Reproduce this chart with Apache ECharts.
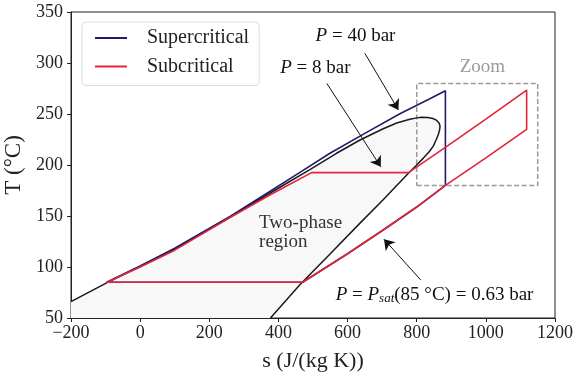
<!DOCTYPE html>
<html>
<head>
<meta charset="utf-8">
<script src="https://cdn.jsdelivr.net/npm/echarts@6/dist/echarts.min.js"></script>
<style>
  html, body { margin: 0; padding: 0; background: #fff; }
  #chart { width: 575px; height: 374px; }
</style>
</head>
<body>
<div id="chart"></div>
<script>
// Axis ticks
const sTicks = [-200, 0, 200, 400, 600, 800, 1000, 1200];
const tTicks = [50, 100, 150, 200, 250, 300, 350];

// Saturation dome (entropy J/(kg K), temperature °C)
const domeCurve = [
  [-200, 66], [-97, 84.5], [0, 100.5], [100, 117.5], [260, 149], [375, 172.3],
  [491, 195.5], [568, 211.5], [636, 224.5], [700, 235], [742, 241.2], [780, 244.9],
  [800, 246.2], [815, 246.7], [832, 246.6], [847, 245.6], [858, 243.7], [865, 241],
  [867.5, 238], [866, 234], [862, 229.5], [856, 224.5], [848, 218.5], [836, 213],
  [820, 207], [800, 200], [776, 192], [703, 166], [636, 143], [550, 113],
  [462, 82.5], [377, 50]
];

// Supercritical cycle at 40 bar
const supercritical = [
  [-97, 85], [0, 101], [100, 118.5], [260, 149.5], [375, 174], [460, 192.3],
  [549, 211.5], [650, 231], [750, 250], [838, 265], [883, 272.8],
  [883, 180], [800, 158.8], [703, 136.3], [600, 113], [470, 85], [-97, 85]
];

// Subcritical cycle at 8 bar
const subcritical = [
  [-97, 85], [0, 100], [100, 116.5], [260, 148.5], [375, 170.6], [496, 192.5],
  [776, 192.5], [886, 218], [1000, 245], [1118, 273.5],
  [1118, 235], [1000, 207], [883, 180], [800, 158.8], [703, 136.3], [600, 113],
  [470, 85], [-97, 85]
];

// Zoom window corners
const zoomBox = [[800, 180], [1150, 280]];

// Annotation texts and arrows (data coordinates)
const noteTexts = [
  '{i|P} = 40 bar',
  '{i|P} = 8 bar',
  '{i|P} = {i|P}{sub|sat}(85 °C) = 0.63 bar'
];
const noteAnchors = [[623, 326.5], [507, 295], [851.5, 72.5]];
const arrowStarts = [[650, 309.5], [540, 280], [811.6, 87.3]];
const arrowEnds = [[747, 254], [696, 198.3], [705.4, 127.2]];

const NAVY = '#1c1c6b';
const RED = '#e2243a';
const SERIF = '"Liberation Serif", serif';

const chart = echarts.init(document.getElementById('chart'), null, { renderer: 'canvas' });

const richStyles = {
  i: { fontFamily: SERIF, fontSize: 19, fontStyle: 'italic', color: '#111' },
  sub: { fontFamily: SERIF, fontSize: 13, fontStyle: 'italic', color: '#111', verticalAlign: 'bottom', padding: [8, 0, 0, 0] }
};

const boxPath = [
  [zoomBox[0][0], zoomBox[0][1]], [zoomBox[1][0], zoomBox[0][1]],
  [zoomBox[1][0], zoomBox[1][1]], [zoomBox[0][0], zoomBox[1][1]],
  [zoomBox[0][0], zoomBox[0][1]]
];

const option = {
  animation: false,
  backgroundColor: '#fff',
  grid: {
    left: 71, right: 20, top: 12, bottom: 56,
    containLabel: false, outerBoundsMode: 'none',
    show: true, borderColor: '#222', borderWidth: 1, backgroundColor: 'transparent'
  },
  legend: {
    data: ['Supercritical', 'Subcritical'],
    orient: 'vertical',
    left: 82, top: 22,
    icon: 'rect',
    itemWidth: 32, itemHeight: 2,
    itemGap: 8.5,
    padding: [6, 10, 9, 13],
    borderColor: '#dcdcdc', borderWidth: 1, borderRadius: 4,
    backgroundColor: 'rgba(255,255,255,0.8)',
    textStyle: { fontFamily: SERIF, fontSize: 20, color: '#222', padding: [0, 0, 0, 15], lineHeight: 20 }
  },
  xAxis: {
    type: 'value',
    min: sTicks[0], max: sTicks[sTicks.length - 1], interval: sTicks[1] - sTicks[0],
    name: 's (J/(kg K))',
    nameLocation: 'middle', nameGap: 32,
    nameTextStyle: { fontFamily: SERIF, fontSize: 22, color: '#222' },
    axisLine: { show: true, onZero: false, lineStyle: { color: '#222', width: 1 } },
    axisTick: { show: true, length: 4, lineStyle: { color: '#222' } },
    axisLabel: {
      margin: 6, fontFamily: SERIF, fontSize: 18, color: '#222',
      formatter: v => String(v).replace('-', '\u2212')
    },
    splitLine: { show: false }
  },
  yAxis: {
    type: 'value',
    min: tTicks[0], max: tTicks[tTicks.length - 1], interval: tTicks[1] - tTicks[0],
    name: 'T (°C)',
    nameLocation: 'middle', nameGap: 36, nameRotate: 90,
    nameTextStyle: { fontFamily: SERIF, fontSize: 23, color: '#222' },
    axisLine: { show: true, onZero: false, lineStyle: { color: '#222', width: 1 } },
    axisTick: { show: true, length: 4, lineStyle: { color: '#222' } },
    axisLabel: { margin: 8, fontFamily: SERIF, fontSize: 18, color: '#222' },
    splitLine: { show: false }
  },
  series: [
    {
      // two-phase region shading under the dome
      type: 'custom',
      silent: true,
      z: 1,
      data: [[0, 0]],
      renderItem: (params, api) => {
        const pts = domeCurve.concat([[domeCurve[domeCurve.length - 1][0], tTicks[0]], [sTicks[0], tTicks[0]]])
          .map(p => api.coord(p));
        return { type: 'polygon', shape: { points: pts, smooth: 0 }, style: { fill: '#f8f8f8', stroke: null } };
      }
    },
    {
      name: 'dome',
      type: 'line',
      z: 3,
      data: domeCurve,
      showSymbol: false,
      smooth: false,
      silent: true,
      lineStyle: { color: '#1a1a1a', width: 1.5 },
      markLine: {
        silent: true,
        symbol: ['none', 'arrow'],
        symbolSize: 10,
        label: { show: false },
        lineStyle: { color: '#111', width: 1, type: 'solid' },
        emphasis: { disabled: true },
        data: arrowStarts.map((a, i) => [{ coord: a }, { coord: arrowEnds[i] }])
      }
    },
    {
      name: 'Supercritical',
      type: 'line',
      z: 4,
      data: supercritical,
      showSymbol: false,
      color: NAVY,
      lineStyle: { color: NAVY, width: 1.6 }
    },
    {
      name: 'Subcritical',
      type: 'line',
      z: 5,
      data: subcritical,
      showSymbol: false,
      color: RED,
      lineStyle: { color: RED, width: 1.6 }
    },
    {
      name: 'zoombox',
      type: 'line',
      z: 2,
      data: boxPath,
      showSymbol: false,
      silent: true,
      lineStyle: { color: '#9a9a9a', width: 1.5, type: [5, 2.5] }
    },
    {
      // annotation labels
      type: 'custom',
      z: 6,
      silent: true,
      data: noteAnchors.concat([[344, 134], [990, 296.4]]),
      renderItem: (params, api) => {
        const p = api.coord([api.value(0), api.value(1)]);
        const i = params.dataIndex;
        if (i < noteTexts.length) {
          return {
            type: 'text', x: p[0], y: p[1],
            style: {
              text: noteTexts[i], rich: richStyles,
              fontFamily: SERIF, fontSize: 19, fill: '#111',
              align: 'center', verticalAlign: 'middle'
            }
          };
        }
        if (i === noteTexts.length) {
          return {
            type: 'text', x: p[0], y: p[1],
            style: {
              text: 'Two-phase\nregion', fontFamily: SERIF, fontSize: 19, fill: '#333',
              lineHeight: 19, align: 'left', verticalAlign: 'middle'
            }
          };
        }
        return {
          type: 'text', x: p[0], y: p[1],
          style: { text: 'Zoom', fontFamily: SERIF, fontSize: 19, fill: '#9a9a9a', align: 'center', verticalAlign: 'middle' }
        };
      }
    }
  ]
};

chart.setOption(option);
</script>
</body>
</html>
